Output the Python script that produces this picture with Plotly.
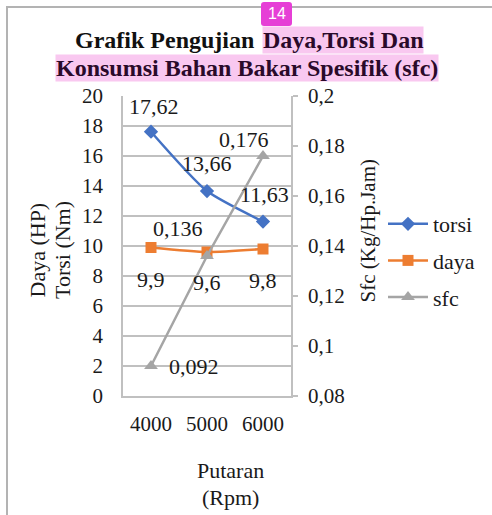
import plotly.graph_objects as go

categories = ["4000", "5000", "6000"]
torsi = [17.62, 13.66, 11.63]
daya = [9.9, 9.6, 9.8]
sfc = [0.092, 0.136, 0.176]
torsi_labels = ["17,62", "13,66", "11,63"]
daya_labels = ["9,9", "9,6", "9,8"]
sfc_labels = ["0,092", "0,136", "0,176"]
left_ticks = [0, 2, 4, 6, 8, 10, 12, 14, 16, 18, 20]
right_ticks = [0.08, 0.1, 0.12, 0.14, 0.16, 0.18, 0.2]
right_ticktext = ["0,08", "0,1", "0,12", "0,14", "0,16", "0,18", "0,2"]

W, H = 492, 515
L, R, T, B = 123, 291, 96, 396

def px(x):
    return (x - L) / (R - L)

def py(y):
    return (B - y) / (B - T)

SERIF = "Liberation Serif, Times New Roman, serif"
GRID = "#c0c0c0"
TXT = "#1a1a1a"

fig = go.Figure()
fig.add_trace(go.Scatter(x=categories, y=torsi, name="torsi", mode="lines+markers",
                         line=dict(color="#4472c4", width=2.5, shape="spline", smoothing=0.6),
                         marker=dict(symbol="diamond", size=11, color="#4472c4"),
                         legendgroup="a"))
fig.add_trace(go.Scatter(x=categories, y=daya, name="daya", mode="lines+markers",
                         line=dict(color="#ed7d31", width=2.5, shape="spline", smoothing=0.6),
                         marker=dict(symbol="square", size=11, color="#ed7d31"),
                         legendgroup="b"))
fig.add_trace(go.Scatter(x=categories, y=sfc, name="sfc", mode="lines+markers", yaxis="y2",
                         line=dict(color="#a5a5a5", width=2.5),
                         marker=dict(symbol="triangle-up", size=12, color="#a5a5a5"),
                         legendgroup="c"))

lab_font = dict(family=SERIF, size=22, color=TXT)
ann = []
torsi_shift = [(3, 25), (0, 28), (1, 27)]
for i, (v, t, (dx, dy)) in enumerate(zip(torsi, torsi_labels, torsi_shift)):
    ann.append(dict(x=i, y=v, xref="x", yref="y", text=t, showarrow=False, font=lab_font,
                    xshift=dx, yshift=dy))
daya_shift = [(0, -32), (0, -30), (0, -31)]
for i, (v, t, (dx, dy)) in enumerate(zip(daya, daya_labels, daya_shift)):
    ann.append(dict(x=i, y=v, xref="x", yref="y", text=t, showarrow=False, font=lab_font,
                    xshift=dx, yshift=dy))
sfc_shift = [(43, 0), (-29, 28), (-19, 17)]
for i, (v, t, (dx, dy)) in enumerate(zip(sfc, sfc_labels, sfc_shift)):
    ann.append(dict(x=i, y=v, xref="x", yref="y2", text=t, showarrow=False, font=lab_font,
                    xshift=dx, yshift=dy))

# Title
tfont = dict(family=SERIF, size=24, color="#111111")
hfont = dict(family=SERIF, size=24, color="#2a0a2a")
PINK = "#f9c8f0"
ann.append(dict(x=px(262), y=py(40), xref="paper", yref="paper", xanchor="right", yanchor="middle",
                text="<b>Grafik Pengujian </b>", showarrow=False, font=tfont))
ann.append(dict(x=px(262), y=py(40), xref="paper", yref="paper", xanchor="left", yanchor="middle",
                text="<b>Daya,Torsi Dan</b>", showarrow=False, font=hfont, bgcolor=PINK, borderpad=0))
ann.append(dict(x=px(247), y=py(67.5), xref="paper", yref="paper", xanchor="center", yanchor="middle",
                text="<b>Konsumsi Bahan Bakar Spesifik (sfc)</b>", showarrow=False, font=hfont,
                bgcolor=PINK, borderpad=0))
# Badge
ann.append(dict(x=px(276.5), y=py(14), xref="paper", yref="paper", xanchor="center", yanchor="middle",
                text="14", showarrow=False,
                font=dict(family="Liberation Sans, Arial, sans-serif", size=16, color="white")))
# Axis titles
ann.append(dict(x=px(367), y=py(231.5), xref="paper", yref="paper", xanchor="center", yanchor="middle",
                text="Sfc (Kg/Hp.Jam)", textangle=-90, showarrow=False,
                font=dict(family=SERIF, size=21, color=TXT)))
ann.append(dict(x=px(36.5), y=py(250), xref="paper", yref="paper", xanchor="center", yanchor="middle",
                text="Daya (HP)", textangle=-90, showarrow=False,
                font=dict(family=SERIF, size=22, color=TXT)))
ann.append(dict(x=px(62), y=py(250), xref="paper", yref="paper", xanchor="center", yanchor="middle",
                text="Torsi (Nm)", textangle=-90, showarrow=False,
                font=dict(family=SERIF, size=22, color=TXT)))
ann.append(dict(x=px(230), y=py(470), xref="paper", yref="paper", xanchor="center", yanchor="middle",
                text="Putaran", showarrow=False, font=dict(family=SERIF, size=22, color=TXT)))
ann.append(dict(x=px(230), y=py(497), xref="paper", yref="paper", xanchor="center", yanchor="middle",
                text="(Rpm)", showarrow=False, font=dict(family=SERIF, size=22, color=TXT)))

def rr(x0, y0, x1, y1, r):
    X = lambda v: px(v)
    Y = lambda v: py(v)
    return (f"M {X(x0+r)},{Y(y0)} L {X(x1-r)},{Y(y0)} Q {X(x1)},{Y(y0)} {X(x1)},{Y(y0+r)} "
            f"L {X(x1)},{Y(y1-r)} Q {X(x1)},{Y(y1)} {X(x1-r)},{Y(y1)} L {X(x0+r)},{Y(y1)} "
            f"Q {X(x0)},{Y(y1)} {X(x0)},{Y(y1-r)} L {X(x0)},{Y(y0+r)} Q {X(x0)},{Y(y0)} {X(x0+r)},{Y(y0)} Z")

shapes = [
    dict(type="line", xref="paper", yref="paper", x0=px(7), x1=px(7), y0=py(6), y1=py(515),
         line=dict(color="#b3b3b3", width=2)),
    dict(type="line", xref="paper", yref="paper", x0=px(6), x1=px(492), y0=py(7), y1=py(7),
         line=dict(color="#b3b3b3", width=2)),
    dict(type="path", xref="paper", yref="paper", path=rr(261, 2, 292, 26, 3),
         fillcolor="#e63fd6", line=dict(width=0)),
]

fig.update_layout(
    width=W, height=H,
    margin=dict(l=L, r=W - R, t=T, b=H - B, pad=0),
    paper_bgcolor="white", plot_bgcolor="white",
    font=dict(family=SERIF, size=21, color=TXT),
    showlegend=True,
    legend=dict(x=px(383), xanchor="left", y=py(203), yanchor="top",
                font=dict(family=SERIF, size=22, color=TXT),
                itemwidth=40, tracegroupgap=5, traceorder="grouped",
                bgcolor="rgba(0,0,0,0)"),
    xaxis=dict(type="category", range=[-0.5, 2.5], showgrid=False, showline=True,
               linecolor=GRID, linewidth=1.5, ticks="", ticklabelstandoff=8,
               tickfont=dict(family=SERIF, size=21, color=TXT)),
    yaxis=dict(range=[0, 20], tickvals=left_ticks, showgrid=True, gridcolor=GRID, gridwidth=1.5,
               showline=True, linecolor=GRID, linewidth=1.5, zeroline=False, ticks="",
               ticklabelstandoff=14,
               tickfont=dict(family=SERIF, size=21, color=TXT)),
    yaxis2=dict(range=[0.08, 0.2], overlaying="y", side="right", tickvals=right_ticks,
                ticktext=right_ticktext, showgrid=False, showline=True, linecolor=GRID, linewidth=1.5,
                zeroline=False, ticks="outside", ticklen=5, tickcolor=GRID, tickwidth=1.5,
                ticklabelstandoff=6,
                tickfont=dict(family=SERIF, size=21, color=TXT)),
    annotations=ann,
    shapes=shapes,
)

fig.write_html("out.html", config={"displayModeBar": False},
               post_script="document.body.style.margin='0';document.body.style.padding='0';")
